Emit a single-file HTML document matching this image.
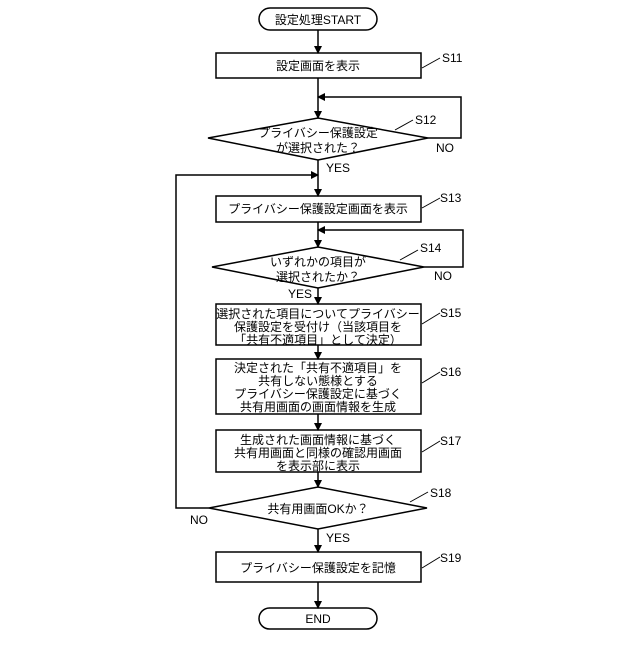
<!DOCTYPE html>
<html><head><meta charset="utf-8"><style>
html,body{margin:0;padding:0;background:#fff}
svg text{font-family:"Liberation Sans","Noto Sans CJK JP",sans-serif;font-size:12px;fill:#000}
</style></head><body>
<svg width="640" height="640" viewBox="0 0 640 640" xmlns="http://www.w3.org/2000/svg">
<defs><marker id="a" markerWidth="8" markerHeight="8" refX="7" refY="4" orient="auto" markerUnits="userSpaceOnUse"><path d="M0,0 L8,4 L0,8 z" fill="#000"/></marker></defs>
<g stroke="#000" stroke-width="1.5" fill="none">
<rect x="259" y="8" width="118" height="22" rx="11" fill="#fff"/>
<rect x="216" y="53" width="205" height="25"/>
<polygon points="208,138 318,118 428,138 318,160"/>
<rect x="216" y="196" width="205" height="26"/>
<polygon points="212,267 318,247 424,267 318,288"/>
<rect x="216" y="304" width="205" height="41"/>
<rect x="216" y="359" width="205" height="55"/>
<rect x="216" y="430" width="205" height="42"/>
<polygon points="209,508 318,487 427,508 318,529"/>
<rect x="216" y="552" width="205" height="30"/>
<rect x="259" y="608" width="118" height="21" rx="10.5"/>
<line x1="318" y1="30" x2="318" y2="53" marker-end="url(#a)"/>
<line x1="318" y1="78" x2="318" y2="118" marker-end="url(#a)"/>
<polyline points="428,138 461,138 461,97 318,97" marker-end="url(#a)"/>
<line x1="318" y1="160" x2="318" y2="196" marker-end="url(#a)"/>
<polyline points="209,508 176,508 176,175 318,175" marker-end="url(#a)"/>
<line x1="318" y1="222" x2="318" y2="247" marker-end="url(#a)"/>
<polyline points="424,267 463,267 463,230 318,230" marker-end="url(#a)"/>
<line x1="318" y1="288" x2="318" y2="304" marker-end="url(#a)"/>
<line x1="318" y1="345" x2="318" y2="359" marker-end="url(#a)"/>
<line x1="318" y1="414" x2="318" y2="430" marker-end="url(#a)"/>
<line x1="318" y1="472" x2="318" y2="487" marker-end="url(#a)"/>
<line x1="318" y1="529" x2="318" y2="552" marker-end="url(#a)"/>
<line x1="318" y1="582" x2="318" y2="608" marker-end="url(#a)"/>
</g>
<g stroke="#000" stroke-width="1" fill="none">
<line x1="422" y1="68" x2="440" y2="58"/>
<line x1="395" y1="130" x2="413" y2="120"/>
<line x1="422" y1="208" x2="440" y2="198"/>
<line x1="400" y1="260" x2="418" y2="250"/>
<line x1="422" y1="324" x2="440" y2="313"/>
<line x1="422" y1="383" x2="440" y2="372"/>
<line x1="422" y1="452" x2="440" y2="441"/>
<line x1="410" y1="502" x2="428" y2="492"/>
<line x1="422" y1="568" x2="440" y2="557"/>
</g>
<g text-anchor="middle">
<text x="318" y="24">設定処理START</text>
<text x="318" y="70">設定画面を表示</text>
<text x="318" y="137">プライバシー保護設定</text>
<text x="318" y="152">が選択された？</text>
<text x="318" y="213">プライバシー保護設定画面を表示</text>
<text x="318" y="266">いずれかの項目が</text>
<text x="318" y="281">選択されたか？</text>
<text x="318" y="318">選択された項目についてプライバシー</text>
<text x="318" y="331">保護設定を受付け（当該項目を</text>
<text x="318" y="344">「共有不適項目」として決定）</text>
<text x="318" y="372">決定された「共有不適項目」を</text>
<text x="318" y="385">共有しない態様とする</text>
<text x="318" y="398">プライバシー保護設定に基づく</text>
<text x="318" y="411">共有用画面の画面情報を生成</text>
<text x="318" y="444">生成された画面情報に基づく</text>
<text x="318" y="457">共有用画面と同様の確認用画面</text>
<text x="318" y="470">を表示部に表示</text>
<text x="318" y="513">共有用画面OKか？</text>
<text x="318" y="572">プライバシー保護設定を記憶</text>
<text x="318" y="623">END</text>
</g>
<text x="442" y="62">S11</text>
<text x="415" y="124">S12</text>
<text x="440" y="202">S13</text>
<text x="420" y="252">S14</text>
<text x="440" y="317">S15</text>
<text x="440" y="376">S16</text>
<text x="440" y="445">S17</text>
<text x="430" y="497">S18</text>
<text x="440" y="562">S19</text>
<text x="326" y="172">YES</text>
<text x="436" y="152">NO</text>
<text x="434" y="280">NO</text>
<text x="288" y="298">YES</text>
<text x="190" y="524">NO</text>
<text x="326" y="542">YES</text>
</svg>
</body></html>
